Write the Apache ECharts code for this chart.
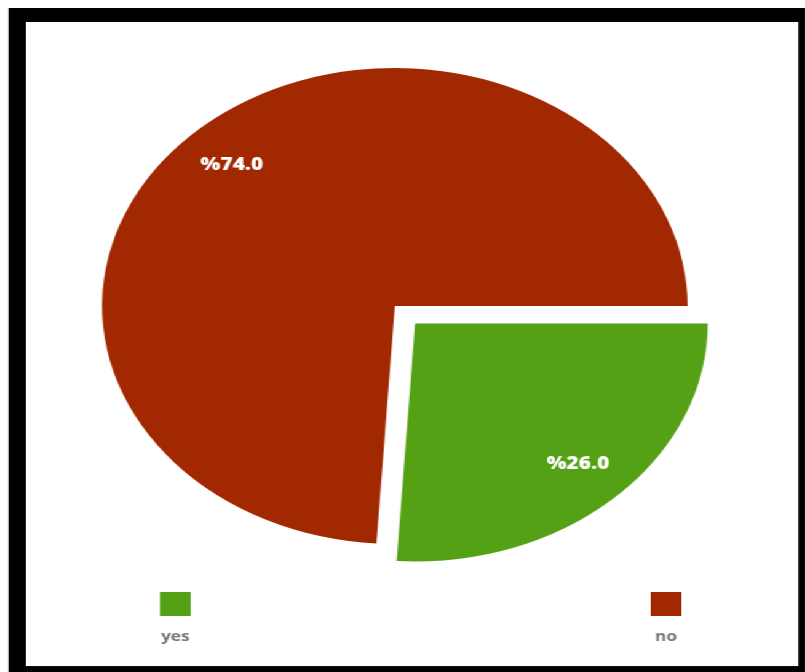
<!DOCTYPE html>
<html>
<head>
<meta charset="utf-8">
<script src="https://cdn.jsdelivr.net/npm/echarts@6/dist/echarts.min.js"></script>
<style>
  html, body { margin: 0; padding: 0; background: #fff; width: 805px; height: 672px; overflow: hidden; }
  /* the whole figure is drawn at its natural width, then widened */
  #stage { position: absolute; left: 0; top: 0; width: 654.5px; height: 672px; transform: scaleX(1.23); transform-origin: 0 0; }
  #frame { position: absolute; left: 6.5px; top: 8px; right: 0; bottom: 0; background: #000; }
  #chart { position: absolute; left: 14.6px; top: 14px; width: 628px; height: 644px; background: #fff; }
</style>
</head>
<body>
<div id="stage">
  <div id="frame"><div id="chart"></div></div>
</div>
<script>
// answers and their shares (percent)
const categories = ['yes', 'no'];
const values = [26.0, 74.0];
const colors = ['#55a116', '#a12800'];

const pieData = categories.map((name, i) => ({
  name: name,
  value: values[i],
  selected: name === 'yes',
  itemStyle: { color: colors[i] }
}));

const chart = echarts.init(document.getElementById('chart'), null, { renderer: 'canvas' });

const legendText = {
  color: '#777',
  fontFamily: 'Open Sans',
  fontWeight: 'bold',
  fontSize: 14,
  padding: [66, 0, 0, -30],
  rich: { t: { width: 25, align: 'center', color: '#777', fontFamily: 'Open Sans', fontWeight: 'bold', fontSize: 14 } }
};

const pieCommon = {
  type: 'pie',
  center: [300, 284],
  startAngle: 0,
  clockwise: true,
  selectedMode: 'single',
  selectedOffset: 24,
  emphasis: { disabled: true },
  select: { itemStyle: { borderWidth: 0 } },
  labelLine: { show: false },
  animation: false
};

chart.setOption({
  animation: false,
  legend: [
    { data: [categories[0]], left: 109, top: 570, padding: 0, itemWidth: 25, itemHeight: 24,
      icon: 'rect', selectedMode: false, formatter: n => '{t|' + n + '}', textStyle: legendText },
    { data: [categories[1]], left: 508, top: 570, padding: 0, itemWidth: 25, itemHeight: 24,
      icon: 'rect', selectedMode: false, formatter: n => '{t|' + n + '}', textStyle: legendText }
  ],
  series: [
    Object.assign({}, pieCommon, {
      name: 'share',
      radius: 238,
      label: { show: false },
      data: pieData
    }),
    // transparent ring that carries the value labels at ~80% of the radius
    Object.assign({}, pieCommon, {
      name: 'labels',
      radius: [143, 238],
      silent: true,
      z: 3,
      itemStyle: { color: 'rgba(0,0,0,0)' },
      label: {
        show: true,
        position: 'inside',
        color: '#fff',
        fontFamily: 'Open Sans',
        fontWeight: 800,
        fontSize: 17,
        formatter: p => '%' + p.value.toFixed(1)
      },
      data: categories.map((name, i) => ({
        name: name, value: values[i], selected: name === 'yes',
        itemStyle: { color: 'rgba(0,0,0,0)' }
      }))
    })
  ]
});
</script>
</body>
</html>
